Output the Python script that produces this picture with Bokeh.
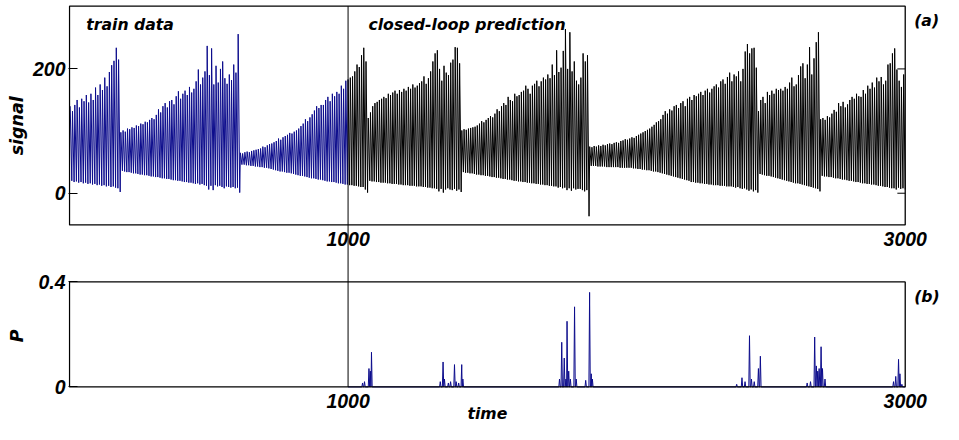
from bokeh.plotting import figure
from bokeh.models import Range1d, LinearAxis, FixedTicker
from bokeh.core.properties import value
from bokeh.embed import file_html
from bokeh.resources import INLINE

# ---------------- data ----------------
TRAIN_END = 1000
T_END = 3000
SEG_BOUNDS = [0, 182, 611, 1070, 1406, 1865, 2471, 2694, 3000]

PEAKS_1 = [140, 132, 142, 150, 138, 152, 148, 158, 146, 160, 150, 170, 158, 175, 166,
           186, 172, 195, 206, 213, 234, 215]
TROUGHS_1 = [20, 18, 19, 17, 18, 16, 17, 15, 16, 14, 15, 13, 14, 12, 13, 11, 12, 10, 11,
             9, 8, 2]

PEAKS_2 = [98, 101, 99, 104, 103, 106, 105, 109, 108, 112,
           111, 115, 114, 118, 121, 119, 126, 135, 130, 140,
           145, 138, 148, 150, 143, 156, 164, 152, 160, 165,
           158, 171, 162, 168, 180, 199, 175, 186, 196, 237,
           190, 233, 175, 205, 178, 200, 212, 185, 176, 191,
           182, 207, 194, 256]
TROUGHS_2 = [36, 35, 34, 34, 33, 32, 32, 31, 30, 30,
             29, 29, 28, 27, 27, 26, 26, 25, 24, 24,
             23, 23, 22, 21, 21, 20, 20, 19, 18, 18,
             17, 17, 16, 15, 16, 14, 15, 13, 12, 6,
             12, 5, 13, 11, 12, 10, 8, 11, 10, 9,
             10, 8, 9, 1]

PEAKS_3 = [65, 64, 66, 67, 66, 68, 69, 70, 71, 72,
           75, 74, 77, 79, 80, 82, 84, 88, 86, 90,
           92, 94, 97, 96, 99, 101, 104, 108, 112, 119,
           116, 122, 127, 133, 140, 137, 142, 142, 150, 155,
           148, 160, 156, 163, 160, 173, 168, 181,
           183, 186, 188, 196, 207, 203, 222, 234, 212]
TROUGHS_3 = [46, 46, 45, 45, 44, 44, 43, 43, 42, 42,
             41, 41, 40, 39, 38, 37, 36, 35, 35, 34,
             33, 33, 32, 31, 30, 29, 28, 28, 27, 26,
             25, 24, 24, 23, 22, 22, 21, 20, 19, 19,
             18, 18, 17, 16, 16, 15, 14, 14,
             13, 13, 12, 12, 11, 10, 10, 6, 1]

PEAKS_4 = [121, 130, 140, 145, 147, 150, 152, 155, 153, 160,
           158, 162, 165, 160, 166, 163, 168, 165, 171, 168,
           175, 170, 173, 177, 180, 188, 176, 185, 196, 212,
           225, 230, 200, 181, 205, 194, 190, 210, 215, 235,
           234, 209]
TROUGHS_4 = [20, 19, 19, 18, 18, 17, 17, 17, 16, 16,
             15, 15, 15, 14, 14, 13, 13, 13, 12, 12,
             12, 11, 11, 11, 10, 10, 9, 9, 8, 8,
             7, 3, 7, 1, 6, 8, 6, 5, 7, 4,
             6, 2]

PEAKS_5 = [101, 103, 102, 104, 105, 106, 107, 109, 112, 116,
           114, 118, 121, 124, 122, 128, 135, 132, 140, 145,
           142, 155, 150, 148, 160, 156, 158, 163, 165, 173,
           168, 160, 173, 176, 181, 172, 180, 186, 183, 191,
           185, 207, 190, 230, 195, 202, 229, 264, 200, 259,
           196, 212, 181, 175, 186, 225, 212, 222]
TROUGHS_5 = [34, 33, 33, 32, 32, 31, 30, 30, 29, 29,
             28, 28, 27, 26, 26, 25, 25, 24, 23, 23,
             22, 22, 21, 20, 20, 19, 19, 18, 18, 17,
             17, 16, 16, 15, 15, 14, 14, 13, 13, 12,
             12, 11, 11, 9, 10, 8, 9, 5, 8, 4,
             8, 6, 7, 7, 5, 3, 5, -37]

PEAKS_6 = [75, 74, 76, 75, 77, 76, 78, 77, 79, 80,
           79, 81, 82, 81, 84, 85, 87, 86, 88, 90,
           89, 92, 94, 96, 98, 100, 102, 104, 107, 110,
           114, 116, 119, 126, 132, 128, 135, 133, 140, 142,
           137, 145, 148, 140, 152, 155, 150, 158, 156, 160,
           163, 158, 165, 168, 162, 168, 172, 175, 170, 180,
           183, 176, 187, 194, 180, 191, 188, 196, 180, 200,
           228, 240, 225, 233, 234, 202]
TROUGHS_6 = [44, 44, 44, 43, 43, 43, 43, 42, 42, 42,
             42, 42, 42, 41, 41, 41, 41, 41, 41, 40,
             40, 39, 39, 38, 38, 37, 37, 36, 35, 35,
             34, 33, 32, 31, 30, 29, 28, 27, 26, 25,
             24, 23, 22, 21, 20, 18, 18, 17, 17, 16,
             16, 15, 15, 14, 14, 13, 13, 13, 12, 12,
             12, 11, 11, 11, 10, 9, 10, 8, 7, 8,
             6, 4, 6, 3, 5, 1]

PEAKS_7 = [132, 150, 155, 145, 163, 158, 165, 160, 168, 166,
           168, 165, 171, 168, 178, 186, 172, 175, 190, 204,
           209, 185, 207, 235, 191, 217, 243, 259]
TROUGHS_7 = [31, 30, 29, 28, 28, 27, 26, 25, 24, 23,
             22, 21, 20, 19, 18, 17, 16, 16, 15, 14,
             13, 12, 11, 10, 9, 8, 7, 3]

PEAKS_8 = [119, 121, 118, 124, 122, 128, 134, 131, 145, 140,
           147, 138, 143, 150, 155, 152, 160, 156, 155, 166,
           160, 173, 168, 178, 170, 186, 180, 187, 175, 181,
           207, 209, 225, 233, 199, 181, 171, 191]
TROUGHS_8 = [28, 27, 27, 26, 26, 25, 24, 24, 23, 22,
             22, 21, 20, 20, 19, 18, 18, 17, 16, 16,
             15, 15, 14, 14, 13, 12, 12, 11, 10, 10,
             9, 8, 8, 6, 9, 7, 8, 6]

PEAKS = [PEAKS_1, PEAKS_2, PEAKS_3, PEAKS_4, PEAKS_5, PEAKS_6, PEAKS_7, PEAKS_8]
TROUGHS = [TROUGHS_1, TROUGHS_2, TROUGHS_3, TROUGHS_4, TROUGHS_5, TROUGHS_6, TROUGHS_7, TROUGHS_8]

# prediction error P: spike times and heights
P_TIMES = [1052, 1059, 1075, 1080, 1084, 1331, 1341, 1346, 1360, 1368, 1382, 1388, 1397,
           1408, 1412, 1759, 1767, 1776, 1782, 1786, 1792, 1798, 1813, 1819, 1853,
           1867, 1873, 1877, 2395, 2414, 2425, 2441, 2448, 2458, 2473, 2480,
           2648, 2660, 2675, 2681, 2686, 2691, 2698, 2703, 2712,
           2958, 2966, 2976, 2981, 2988]
P_VALUES = [0.015, 0.02, 0.07, 0.06, 0.132, 0.02, 0.095, 0.03, 0.015, 0.02, 0.085, 0.02,
            0.015, 0.085, 0.03, 0.03, 0.17, 0.11, 0.03, 0.25, 0.06, 0.03, 0.305, 0.03, 0.025,
            0.36, 0.05, 0.03, 0.01, 0.035, 0.02, 0.195, 0.03, 0.02, 0.07, 0.117,
            0.015, 0.02, 0.19, 0.08, 0.06, 0.07, 0.153, 0.07, 0.03,
            0.02, 0.04, 0.105, 0.05, 0.01]

SIG_RANGE = (-51, 301)
SIG_TICKS = [0, 200]
P_RANGE = (0, 0.4)
P_TICKS = [0, 0.4]
X_TICKS = [1000, 3000]

# ---------------- layout ----------------
# positions are given in the reference picture's pixels (959 x 440) and scaled
REF_W, REF_H = 959.0, 440.0
W, H = 943, 424
SX, SY = W / REF_W, H / REF_H
FRAME_LEFT = 68                      # canvas px
REF_X0 = 70.0                        # ref x of t = 0
REF_PX_PER_T = (353.3 - 70.0) / 1000.0
SIG0_Y, SIG200_Y = 200.0, 71.0       # ref y of signal 0 and 200
P0_Y, P04_Y = 401.0, 292.0           # ref y of P 0 and 0.4

SIG_PX = (SIG0_Y - SIG200_Y) / 200.0
P_PX = (P0_Y - P04_Y) / 0.4
C_PX_PER_T = REF_PX_PER_T * SX


def su(y):      # ref y -> signal units
    return (SIG0_Y - y) / SIG_PX


def py(y):      # ref y -> P units
    return (P0_Y - y) / P_PX


def p_main(v):  # P value -> signal units at the same height
    return round(su(P0_Y - v * P_PX), 4)


def tx(x):      # ref x -> time units
    return (x - REF_X0) / REF_PX_PER_T


x_start = -1.0 / C_PX_PER_T
x_end = x_start + (W - FRAME_LEFT) / C_PX_PER_T

# ---------------- build series ----------------
ts, ys = [], []
for k, (pk, tr) in enumerate(zip(PEAKS, TROUGHS)):
    t0, t1 = SEG_BOUNDS[k], SEG_BOUNDS[k + 1]
    d = (t1 - t0) / len(pk)
    for i in range(len(pk)):
        ts.append(t0 + (i + 0.3) * d)
        ys.append(pk[i])
        ts.append(t0 + (i + 1) * d)
        ys.append(tr[i])

k_split = max(i for i, t in enumerate(ts) if t <= TRAIN_END)

pts = [(TRAIN_END, 0.0), (T_END, 0.0)]
for t, v in zip(P_TIMES, P_VALUES):
    pts += [(t - 2.5, 0.0), (t, v), (t + 2.5, 0.0)]
pts.sort(key=lambda q: q[0])
p_t = [q[0] for q in pts]
p_v = [q[1] for q in pts]

# ---------------- figure ----------------
BLUE = "#0c0c8c"
p = figure(width=W, height=H, output_backend="svg", toolbar_location=None,
           x_range=Range1d(x_start, x_end), y_range=Range1d(su(REF_H), su(0)),
           x_axis_location=None, y_axis_location=None,
           min_border_left=FRAME_LEFT, min_border_right=0,
           min_border_top=0, min_border_bottom=0)
p.extra_y_ranges = {"P": Range1d(py(REF_H), py(0))}
p.outline_line_color = None
p.background_fill_color = "white"
p.border_fill_color = "white"
for g in p.grid:
    g.visible = False
p.xgrid.grid_line_color = None
p.ygrid.grid_line_color = None

p.line(ts[:k_split + 1], ys[:k_split + 1], line_color=BLUE, line_width=1)
p.line(ts[k_split:], ys[k_split:], line_color="black", line_width=1)
p.line(p_t, p_v, line_color=BLUE, line_width=1, y_range_name="P")

# panel frames
p.quad(left=[0], right=[T_END], bottom=[SIG_RANGE[0]], top=[SIG_RANGE[1]],
       fill_color=None, line_color="black", line_width=1.3)
p.quad(left=[0], right=[T_END], bottom=[P_RANGE[0]], top=[P_RANGE[1]],
       fill_color=None, line_color="black", line_width=1.3, y_range_name="P")
# train / prediction divider
p.segment(x0=[TRAIN_END], x1=[TRAIN_END], y0=[p_main(0)], y1=[SIG_RANGE[1]],
          line_color="black", line_width=1)
# inward ticks on the right edge of panel (a)
tick_len = 8 / REF_PX_PER_T
p.segment(x0=[T_END - tick_len] * 2, x1=[T_END] * 2, y0=SIG_TICKS, y1=SIG_TICKS,
          line_color="black", line_width=1)

TICK_FONT = dict(text_font=value("Liberation Sans"), text_font_style="bold italic",
                 text_font_size="19.5px", text_color="black")
LBL_FONT = dict(text_font=value("DejaVu Sans"), text_font_style="bold italic",
                text_font_size="15.7px", text_color="black")

xl = [str(v) for v in X_TICKS]
p.text(x=X_TICKS, y=[su(247.5)] * 2, text=xl, text_align="center", text_baseline="middle", **TICK_FONT)
p.text(x=X_TICKS, y=[su(415.5)] * 2, text=xl, text_align="center", text_baseline="middle", **TICK_FONT)
p.text(x=[T_END / 2], y=[su(429)], text=["time"], text_align="center", text_baseline="middle", **LBL_FONT)
p.text(x=[tx(87)], y=[su(25)], text=["train data"], text_align="left", text_baseline="middle", **LBL_FONT)
p.text(x=[tx(374)], y=[su(25)], text=["closed-loop prediction"], text_align="left",
       text_baseline="middle", **LBL_FONT)
p.text(x=[tx(929)], y=[su(21)], text=["(a)"], text_align="left", text_baseline="middle", **LBL_FONT)
p.text(x=[tx(929)], y=[py(307)], text=["(b)"], text_align="left", text_baseline="middle",
       y_range_name="P", **LBL_FONT)

# left axis: tick labels of both panels
lt = SIG_TICKS + [p_main(v) for v in P_TICKS]
over = {SIG_TICKS[0]: "0", SIG_TICKS[1]: "200", p_main(P_TICKS[0]): "0", p_main(P_TICKS[1]): "0.4"}
ax = LinearAxis(ticker=FixedTicker(ticks=lt, minor_ticks=[]), major_label_overrides=over)
ax.axis_line_color = None
ax.major_tick_in = 9
ax.major_tick_out = 0
ax.major_tick_line_color = "black"
ax.minor_tick_line_color = None
ax.major_label_standoff = 3
ax.major_label_text_font = "Liberation Sans"
ax.major_label_text_font_style = "bold italic"
ax.major_label_text_font_size = "19.5px"
ax.major_label_text_color = "black"
p.add_layout(ax, "left")

# outer left axis: the two y titles
yt = [round(su(130), 4), p_main(py(348))]
ax2 = LinearAxis(ticker=FixedTicker(ticks=yt, minor_ticks=[]),
                 major_label_overrides={yt[0]: "signal", yt[1]: "P"})
ax2.axis_line_color = None
ax2.major_tick_line_color = None
ax2.minor_tick_line_color = None
ax2.major_tick_in = 0
ax2.major_tick_out = 0
ax2.major_label_standoff = 2
ax2.major_label_orientation = "vertical"
ax2.major_label_text_font = "DejaVu Sans"
ax2.major_label_text_font_style = "bold italic"
ax2.major_label_text_font_size = "17.5px"
ax2.major_label_text_color = "black"
p.add_layout(ax2, "left")

open("out.html", "w").write(file_html(p, INLINE))
